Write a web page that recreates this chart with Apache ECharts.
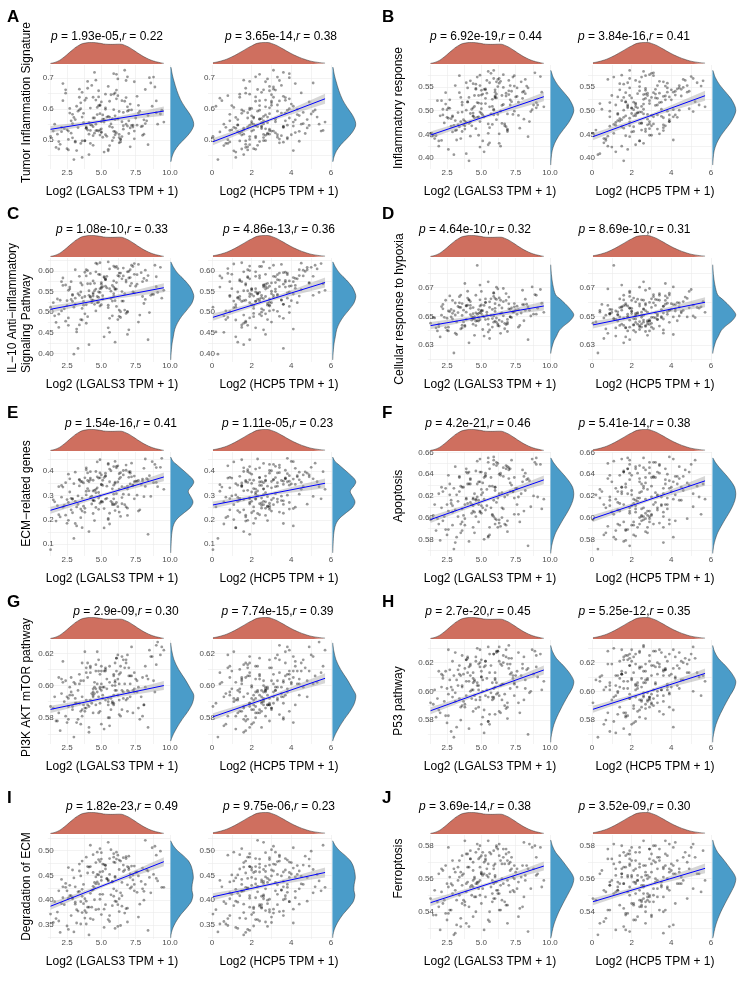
<!DOCTYPE html>
<html>
<head>
<meta charset="utf-8">
<script src="https://cdn.jsdelivr.net/npm/echarts@6/dist/echarts.min.js"></script>
<style>
  html, body { margin: 0; padding: 0; background: #fff; }
  #main { width: 744px; height: 987px; }
</style>
</head>
<body>
<div id="main"></div>
<script>
// shared x values (same samples in every panel)
var xL = [1.3, 2.6, 2.9, 1.9, 5.8, 2.2, 4.1, 4.6, 3.5, 3.1,
  4.3, 6.4, 2.4, 2.8, 3.0, 3.6, 4.8, 5.1, 1.7, 3.9,
  3.3, 2.1, 5.6, 3.7, 4.0, 4.4, 5.2, 2.7, 6.9, 4.7,
  4.5, 3.8, 3.4, 4.2, 5.5, 5.0, 4.9, 6.1, 2.5, 7.4,
  5.7, 5.3, 6.3, 6.0, 8.1, 4.7, 4.4, 3.2, 4.0, 2.3,
  3.5, 2.9, 4.6, 5.6, 5.1, 5.9, 8.4, 7.0, 6.5, 6.2,
  5.4, 6.1, 4.9, 8.8, 6.8, 6.6, 5.8, 7.7, 3.9, 4.3,
  8.3, 3.6, 5.0, 5.9, 6.7, 7.2, 6.9, 6.4, 4.8, 7.5,
  7.1, 6.6, 8.6, 5.2, 7.8, 6.3, 6.0, 5.5, 4.5, 9.1,
  5.3, 8.9, 9.55, 6.5, 7.0, 7.6, 9.3, 6.2, 8.0, 4.9,
  3.8, 1.6, 2.5, 4.9, 3.2, 2.0, 6.3, 2.8, 3.6, 1.5,
  2.1, 4.4, 3.4, 1.8, 5.5, 3.9, 2.6, 4.1, 6.0, 3.1,
  5.9, 3.0, 4.8, 2.4, 4.2, 6.6, 3.5, 1.9, 5.0, 4.5,
  3.7, 5.3, 2.9, 6.4, 4.6, 3.3, 7.1, 5.1, 2.2, 4.0,
  6.1, 4.2, 5.8, 3.1, 7.3, 4.8, 2.7, 5.4, 3.9, 6.7,
  4.9, 7.6, 3.6, 5.5, 6.0, 2.6, 6.9, 4.4, 8.0, 5.2,
  7.9, 5.6, 4.7, 6.5, 3.4, 7.2, 5.0, 8.5, 6.2, 4.1,
  5.3, 8.2, 6.8, 4.4, 7.4, 5.7, 9.0, 6.0, 3.8, 7.0,
  8.4, 6.1, 7.3, 5.0, 9.4, 6.9, 4.2, 7.7, 5.9, 8.1,
  6.8, 5.6, 8.7, 7.4, 4.6, 9.0, 6.3, 8.2, 7.1, 5.9];
var xH = [0.05, 1.8, 0.9, 2.4, 1.1, 0.5, 1.6, 2.9, 0.7, 1.3,
  1.9, 0.8, 2.6, 1.4, 0.3, 2.1, 1.0, 3.3, 1.7, 1.2,
  2.3, 1.5, 0.6, 2.8, 1.9, 3.5, 1.2, 2.0, 2.5, 0.9,
  1.8, 2.7, 3.1, 1.3, 2.2, 0.4, 2.9, 2.4, 1.6, 3.8,
  2.6, 1.4, 3.4, 2.0, 2.8, 1.1, 2.3, 4.1, 1.7, 2.5,
  3.0, 2.2, 1.6, 3.6, 2.7, 4.4, 1.9, 2.4, 3.2, 0.8,
  2.8, 3.9, 1.5, 3.3, 2.1, 4.6, 2.6, 3.0, 1.8, 3.5,
  3.7, 2.5, 4.2, 1.9, 3.1, 4.9, 2.7, 3.4, 2.2, 3.9,
  4.0, 2.9, 5.1, 3.2, 1.6, 3.8, 4.5, 2.6, 3.6, 5.4,
  4.3, 3.1, 5.7, 2.4, 4.7, 3.6, 5.0, 2.8, 4.1, 3.3,
  1.4, 0.6, 2.1, 1.0, 0.2, 1.7, 2.6, 0.9, 1.2, 3.0,
  0.7, 2.3, 1.5, 2.9, 1.1, 0.4, 1.9, 2.5, 1.3, 3.6,
  2.6, 1.2, 3.1, 1.7, 0.8, 2.2, 3.9, 1.5, 2.0, 2.8,
  1.5, 3.3, 2.0, 0.9, 2.7, 3.6, 1.8, 2.4, 4.2, 2.1,
  3.2, 1.9, 2.5, 4.4, 1.3, 2.9, 3.7, 2.2, 1.6, 3.0,
  2.4, 3.8, 1.7, 2.9, 4.8, 2.0, 3.3, 1.4, 2.7, 4.1,
  3.6, 2.2, 4.3, 1.9, 3.1, 5.2, 2.7, 3.9, 2.4, 1.6,
  2.9, 4.6, 3.4, 2.1, 5.5, 3.0, 1.8, 4.0, 3.7, 2.6,
  4.4, 3.2, 2.5, 4.9, 3.8, 2.2, 5.6, 3.5, 1.9, 4.2,
  3.7, 5.3, 4.1, 2.7, 4.5, 3.4, 5.1, 2.3, 4.8, 3.9];

// pathway scores, one array per panel
var yA = [0.512, 0.468, 0.583, 0.495, 0.541, 0.627, 0.453, 0.530, 0.489, 0.566,
  0.548, 0.501, 0.662, 0.522, 0.437, 0.574, 0.611, 0.509, 0.476, 0.538,
  0.593, 0.527, 0.482, 0.556, 0.689, 0.514, 0.461, 0.602, 0.545, 0.531,
  0.571, 0.498, 0.638, 0.549, 0.470, 0.526, 0.585, 0.712, 0.533, 0.504,
  0.552, 0.648, 0.491, 0.578, 0.519, 0.605, 0.543, 0.466, 0.667, 0.537,
  0.620, 0.507, 0.693, 0.544, 0.581, 0.528, 0.485, 0.596, 0.559, 0.643,
  0.574, 0.633, 0.516, 0.703, 0.551, 0.589, 0.498, 0.612, 0.542, 0.676,
  0.562, 0.654, 0.524, 0.598, 0.725, 0.547, 0.607, 0.503, 0.639, 0.571,
  0.616, 0.535, 0.684, 0.567, 0.593, 0.508, 0.652, 0.576, 0.718, 0.551,
  0.599, 0.671, 0.558, 0.627, 0.521, 0.641, 0.584, 0.697, 0.545, 0.613,
  0.497, 0.551, 0.472, 0.533, 0.609, 0.486, 0.518, 0.562, 0.444, 0.529,
  0.541, 0.483, 0.597, 0.519, 0.465, 0.635, 0.502, 0.556, 0.527, 0.493,
  0.508, 0.573, 0.529, 0.651, 0.489, 0.546, 0.601, 0.471, 0.559, 0.522,
  0.586, 0.517, 0.553, 0.494, 0.629, 0.540, 0.478, 0.567, 0.682, 0.532,
  0.523, 0.603, 0.569, 0.496, 0.548, 0.659, 0.587, 0.512, 0.538, 0.625,
  0.611, 0.548, 0.497, 0.673, 0.566, 0.529, 0.593, 0.638, 0.515, 0.558,
  0.543, 0.625, 0.582, 0.511, 0.664, 0.597, 0.536, 0.701, 0.568, 0.519,
  0.604, 0.553, 0.692, 0.571, 0.529, 0.646, 0.588, 0.517, 0.628, 0.562,
  0.579, 0.661, 0.542, 0.623, 0.596, 0.704, 0.531, 0.587, 0.648, 0.565,
  0.637, 0.574, 0.609, 0.688, 0.551, 0.626, 0.592, 0.663, 0.539, 0.714];
var yB = [0.452, 0.418, 0.487, 0.436, 0.471, 0.503, 0.394, 0.462, 0.441, 0.479,
  0.468, 0.425, 0.514, 0.483, 0.407, 0.456, 0.532, 0.491, 0.447, 0.475,
  0.496, 0.521, 0.432, 0.470, 0.548, 0.488, 0.413, 0.505, 0.459, 0.517,
  0.509, 0.461, 0.538, 0.494, 0.428, 0.515, 0.477, 0.561, 0.486, 0.499,
  0.493, 0.544, 0.451, 0.527, 0.482, 0.571, 0.506, 0.438, 0.519, 0.474,
  0.528, 0.489, 0.556, 0.464, 0.535, 0.501, 0.445, 0.542, 0.511, 0.566,
  0.537, 0.481, 0.575, 0.512, 0.466, 0.549, 0.524, 0.490, 0.559, 0.503,
  0.552, 0.497, 0.533, 0.568, 0.472, 0.541, 0.456, 0.562, 0.516, 0.529,
  0.523, 0.576, 0.498, 0.545, 0.463, 0.558, 0.531, 0.583, 0.485, 0.512,
  0.546, 0.580, 0.508, 0.473, 0.564, 0.530, 0.572, 0.492, 0.539, 0.553,
  0.478, 0.441, 0.502, 0.423, 0.459, 0.489, 0.431, 0.467, 0.512, 0.448,
  0.437, 0.495, 0.466, 0.521, 0.452, 0.409, 0.484, 0.473, 0.529, 0.458,
  0.503, 0.469, 0.487, 0.538, 0.446, 0.513, 0.477, 0.425, 0.494, 0.532,
  0.481, 0.526, 0.455, 0.499, 0.547, 0.470, 0.512, 0.436, 0.491, 0.518,
  0.535, 0.476, 0.509, 0.553, 0.492, 0.448, 0.523, 0.564, 0.501, 0.468,
  0.497, 0.548, 0.518, 0.472, 0.539, 0.506, 0.461, 0.557, 0.526, 0.487,
  0.561, 0.508, 0.486, 0.532, 0.574, 0.519, 0.543, 0.477, 0.551, 0.528,
  0.515, 0.566, 0.537, 0.489, 0.552, 0.579, 0.506, 0.544, 0.468, 0.534,
  0.548, 0.527, 0.571, 0.504, 0.539, 0.493, 0.563, 0.518, 0.585, 0.541,
  0.531, 0.559, 0.502, 0.574, 0.545, 0.517, 0.568, 0.536, 0.553, 0.491];
var yC = [0.512, 0.468, 0.541, 0.495, 0.527, 0.583, 0.421, 0.503, 0.482, 0.534,
  0.523, 0.487, 0.566, 0.531, 0.398, 0.509, 0.592, 0.540, 0.475, 0.518,
  0.545, 0.574, 0.451, 0.517, 0.601, 0.529, 0.440, 0.556, 0.500, 0.538,
  0.552, 0.496, 0.587, 0.536, 0.462, 0.561, 0.515, 0.611, 0.528, 0.547,
  0.533, 0.579, 0.490, 0.557, 0.521, 0.617, 0.544, 0.459, 0.569, 0.508,
  0.571, 0.526, 0.598, 0.485, 0.562, 0.539, 0.433, 0.583, 0.550, 0.606,
  0.559, 0.514, 0.620, 0.543, 0.497, 0.588, 0.565, 0.476, 0.603, 0.530,
  0.577, 0.535, 0.558, 0.612, 0.505, 0.570, 0.446, 0.595, 0.549, 0.563,
  0.564, 0.607, 0.541, 0.586, 0.493, 0.595, 0.555, 0.622, 0.519, 0.548,
  0.581, 0.614, 0.553, 0.527, 0.599, 0.568, 0.609, 0.482, 0.574, 0.591,
  0.538, 0.491, 0.516, 0.557, 0.452, 0.529, 0.505, 0.574, 0.481, 0.523,
  0.503, 0.547, 0.469, 0.532, 0.511, 0.588, 0.486, 0.541, 0.427, 0.519,
  0.561, 0.512, 0.536, 0.478, 0.594, 0.527, 0.549, 0.463, 0.518, 0.570,
  0.526, 0.579, 0.543, 0.501, 0.556, 0.412, 0.584, 0.532, 0.565, 0.489,
  0.572, 0.538, 0.491, 0.603, 0.549, 0.524, 0.561, 0.587, 0.473, 0.545,
  0.548, 0.591, 0.566, 0.517, 0.609, 0.553, 0.502, 0.576, 0.538, 0.584,
  0.596, 0.557, 0.523, 0.581, 0.541, 0.614, 0.568, 0.499, 0.589, 0.552,
  0.563, 0.602, 0.578, 0.539, 0.618, 0.551, 0.586, 0.528, 0.597, 0.457,
  0.589, 0.556, 0.611, 0.572, 0.534, 0.598, 0.569, 0.616, 0.545, 0.582,
  0.573, 0.605, 0.544, 0.592, 0.619, 0.562, 0.587, 0.531, 0.603, 0.576];
var yD = [0.6452, 0.6398, 0.6521, 0.6427, 0.6484, 0.6583, 0.6315, 0.6466, 0.6412, 0.6509,
  0.6473, 0.6381, 0.6612, 0.6495, 0.6244, 0.6438, 0.6547, 0.6503, 0.6419, 0.6478,
  0.6526, 0.6568, 0.6345, 0.6461, 0.6675, 0.6490, 0.6362, 0.6533, 0.6447, 0.6514,
  0.6498, 0.6429, 0.6594, 0.6512, 0.6390, 0.6541, 0.6476, 0.6703, 0.6487, 0.6531,
  0.6507, 0.6621, 0.6432, 0.6556, 0.6469, 0.6855, 0.6518, 0.6373, 0.6578, 0.6493,
  0.6562, 0.6481, 0.6647, 0.6405, 0.6539, 0.6502, 0.6337, 0.6587, 0.6524, 0.6691,
  0.6529, 0.6458, 0.6718, 0.6515, 0.6442, 0.6603, 0.6548, 0.6424, 0.6572, 0.6497,
  0.6584, 0.6506, 0.6537, 0.6665, 0.6413, 0.6559, 0.6394, 0.6612, 0.6521, 0.6543,
  0.6549, 0.6694, 0.6502, 0.6576, 0.6436, 0.6628, 0.6534, 0.6741, 0.6481, 0.6557,
  0.6596, 0.6652, 0.6528, 0.6463, 0.6634, 0.6571, 0.6687, 0.6446, 0.6582, 0.6615,
  0.6436, 0.6489, 0.6402, 0.6527, 0.6461, 0.6356, 0.6474, 0.6548, 0.6419, 0.6493,
  0.6508, 0.6445, 0.6563, 0.6398, 0.6481, 0.6529, 0.6424, 0.6615, 0.6467, 0.6382,
  0.6459, 0.6537, 0.6492, 0.6421, 0.6576, 0.6503, 0.6648, 0.6446, 0.6519, 0.6367,
  0.6543, 0.6477, 0.6611, 0.6518, 0.6435, 0.6569, 0.6496, 0.6408, 0.6552, 0.6627,
  0.6488, 0.6556, 0.6425, 0.6593, 0.6531, 0.6467, 0.6642, 0.6509, 0.6574, 0.6451,
  0.6572, 0.6514, 0.6589, 0.6443, 0.6625, 0.6537, 0.6478, 0.6561, 0.6682, 0.6496,
  0.6523, 0.6601, 0.6469, 0.6558, 0.6637, 0.6491, 0.6579, 0.6542, 0.6434, 0.6614,
  0.6597, 0.6541, 0.6659, 0.6483, 0.6566, 0.6622, 0.6515, 0.6588, 0.6729, 0.6552,
  0.6565, 0.6618, 0.6529, 0.6674, 0.6591, 0.6457, 0.6603, 0.6547, 0.6639, 0.6582,
  0.6611, 0.6562, 0.6705, 0.6589, 0.6524, 0.6647, 0.6578, 0.6619, 0.6496, 0.6661];
var yE = [0.078, 0.198, 0.287, 0.221, 0.262, 0.334, 0.152, 0.251, 0.209, 0.276,
  0.265, 0.214, 0.352, 0.288, 0.124, 0.236, 0.371, 0.273, 0.195, 0.302,
  0.298, 0.341, 0.183, 0.256, 0.392, 0.279, 0.167, 0.314, 0.248, 0.331,
  0.321, 0.247, 0.366, 0.292, 0.206, 0.344, 0.268, 0.413, 0.283, 0.356,
  0.276, 0.378, 0.232, 0.349, 0.295, 0.437, 0.318, 0.175, 0.361, 0.259,
  0.357, 0.284, 0.398, 0.227, 0.362, 0.305, 0.141, 0.374, 0.336, 0.421,
  0.338, 0.271, 0.446, 0.352, 0.253, 0.384, 0.327, 0.236, 0.405, 0.297,
  0.369, 0.289, 0.345, 0.418, 0.262, 0.376, 0.218, 0.393, 0.312, 0.358,
  0.347, 0.402, 0.296, 0.373, 0.241, 0.389, 0.354, 0.431, 0.278, 0.336,
  0.381, 0.427, 0.325, 0.266, 0.396, 0.358, 0.415, 0.254, 0.367, 0.392,
  0.231, 0.274, 0.186, 0.298, 0.253, 0.212, 0.326, 0.241, 0.168, 0.282,
  0.293, 0.226, 0.339, 0.258, 0.201, 0.317, 0.271, 0.356, 0.238, 0.185,
  0.262, 0.348, 0.289, 0.219, 0.371, 0.305, 0.244, 0.336, 0.276, 0.197,
  0.351, 0.285, 0.229, 0.374, 0.311, 0.263, 0.397, 0.341, 0.252, 0.328,
  0.307, 0.364, 0.269, 0.395, 0.342, 0.243, 0.368, 0.288, 0.413, 0.331,
  0.372, 0.301, 0.356, 0.427, 0.264, 0.387, 0.338, 0.281, 0.359, 0.246,
  0.345, 0.408, 0.376, 0.291, 0.363, 0.432, 0.274, 0.381, 0.355, 0.319,
  0.391, 0.337, 0.424, 0.362, 0.286, 0.401, 0.353, 0.439, 0.372, 0.303,
  0.364, 0.419, 0.341, 0.384, 0.452, 0.326, 0.397, 0.361, 0.286, 0.411,
  0.403, 0.356, 0.438, 0.379, 0.325, 0.414, 0.368, 0.449, 0.391, 0.342];
var yF = [0.598, 0.589, 0.611, 0.594, 0.603, 0.624, 0.578, 0.601, 0.586, 0.607,
  0.604, 0.592, 0.627, 0.613, 0.571, 0.596, 0.633, 0.609, 0.588, 0.617,
  0.615, 0.628, 0.584, 0.602, 0.641, 0.611, 0.580, 0.621, 0.597, 0.619,
  0.622, 0.599, 0.637, 0.614, 0.583, 0.626, 0.606, 0.648, 0.612, 0.618,
  0.609, 0.639, 0.595, 0.625, 0.606, 0.652, 0.618, 0.582, 0.631, 0.601,
  0.629, 0.605, 0.643, 0.591, 0.632, 0.616, 0.574, 0.636, 0.623, 0.650,
  0.626, 0.598, 0.654, 0.620, 0.593, 0.638, 0.629, 0.603, 0.645, 0.612,
  0.635, 0.608, 0.621, 0.649, 0.594, 0.630, 0.587, 0.641, 0.616, 0.627,
  0.624, 0.646, 0.610, 0.637, 0.596, 0.640, 0.628, 0.655, 0.605, 0.619,
  0.638, 0.651, 0.617, 0.600, 0.644, 0.627, 0.649, 0.591, 0.633, 0.642,
  0.593, 0.612, 0.584, 0.605, 0.621, 0.579, 0.598, 0.616, 0.588, 0.602,
  0.609, 0.591, 0.624, 0.599, 0.582, 0.618, 0.606, 0.631, 0.594, 0.577,
  0.601, 0.627, 0.612, 0.589, 0.636, 0.608, 0.594, 0.622, 0.611, 0.586,
  0.628, 0.607, 0.593, 0.639, 0.617, 0.601, 0.645, 0.623, 0.597, 0.613,
  0.614, 0.635, 0.602, 0.647, 0.624, 0.596, 0.631, 0.611, 0.642, 0.619,
  0.633, 0.612, 0.628, 0.651, 0.599, 0.639, 0.621, 0.606, 0.644, 0.617,
  0.622, 0.645, 0.631, 0.609, 0.638, 0.653, 0.604, 0.634, 0.618, 0.642,
  0.641, 0.625, 0.648, 0.617, 0.603, 0.637, 0.655, 0.628, 0.612, 0.646,
  0.636, 0.651, 0.624, 0.642, 0.608, 0.647, 0.631, 0.619, 0.653, 0.638,
  0.645, 0.629, 0.654, 0.637, 0.616, 0.649, 0.622, 0.641, 0.632, 0.656];
var yG = [0.587, 0.579, 0.594, 0.583, 0.590, 0.602, 0.571, 0.588, 0.576, 0.592,
  0.589, 0.581, 0.603, 0.596, 0.568, 0.585, 0.609, 0.592, 0.578, 0.591,
  0.597, 0.604, 0.575, 0.588, 0.614, 0.593, 0.573, 0.599, 0.584, 0.596,
  0.595, 0.586, 0.607, 0.591, 0.580, 0.601, 0.589, 0.617, 0.593, 0.598,
  0.592, 0.610, 0.582, 0.600, 0.588, 0.621, 0.596, 0.577, 0.605, 0.590,
  0.603, 0.587, 0.613, 0.580, 0.599, 0.594, 0.574, 0.606, 0.597, 0.619,
  0.598, 0.609, 0.584, 0.603, 0.591, 0.616, 0.600, 0.586, 0.611, 0.595,
  0.606, 0.593, 0.612, 0.589, 0.601, 0.624, 0.597, 0.608, 0.583, 0.604,
  0.601, 0.592, 0.618, 0.599, 0.579, 0.607, 0.614, 0.590, 0.602, 0.627,
  0.609, 0.596, 0.622, 0.585, 0.611, 0.603, 0.619, 0.594, 0.605, 0.599,
  0.584, 0.593, 0.577, 0.598, 0.589, 0.572, 0.591, 0.605, 0.581, 0.586,
  0.595, 0.583, 0.601, 0.578, 0.592, 0.608, 0.587, 0.574, 0.597, 0.589,
  0.588, 0.602, 0.593, 0.581, 0.611, 0.596, 0.584, 0.605, 0.576, 0.599,
  0.603, 0.591, 0.585, 0.612, 0.598, 0.579, 0.606, 0.594, 0.615, 0.588,
  0.597, 0.608, 0.589, 0.601, 0.583, 0.616, 0.594, 0.604, 0.586, 0.611,
  0.607, 0.596, 0.614, 0.588, 0.603, 0.592, 0.619, 0.598, 0.581, 0.609,
  0.593, 0.612, 0.601, 0.618, 0.589, 0.606, 0.597, 0.622, 0.604, 0.587,
  0.611, 0.599, 0.616, 0.594, 0.608, 0.585, 0.613, 0.602, 0.621, 0.596,
  0.604, 0.617, 0.597, 0.609, 0.624, 0.592, 0.612, 0.599, 0.606, 0.588,
  0.614, 0.602, 0.618, 0.596, 0.609, 0.625, 0.601, 0.612, 0.593, 0.607];
var yH = [0.592, 0.583, 0.601, 0.587, 0.596, 0.611, 0.574, 0.594, 0.580, 0.599,
  0.595, 0.585, 0.614, 0.603, 0.568, 0.590, 0.619, 0.600, 0.582, 0.597,
  0.604, 0.612, 0.577, 0.593, 0.623, 0.601, 0.571, 0.608, 0.589, 0.606,
  0.607, 0.591, 0.618, 0.600, 0.579, 0.610, 0.596, 0.627, 0.602, 0.605,
  0.599, 0.621, 0.586, 0.609, 0.594, 0.630, 0.606, 0.575, 0.613, 0.593,
  0.611, 0.596, 0.624, 0.584, 0.608, 0.602, 0.570, 0.616, 0.605, 0.628,
  0.609, 0.598, 0.629, 0.612, 0.588, 0.620, 0.606, 0.592, 0.622, 0.601,
  0.615, 0.603, 0.610, 0.626, 0.590, 0.613, 0.581, 0.619, 0.604, 0.611,
  0.612, 0.625, 0.600, 0.617, 0.585, 0.621, 0.608, 0.631, 0.597, 0.610,
  0.618, 0.628, 0.607, 0.594, 0.623, 0.614, 0.626, 0.599, 0.616, 0.620,
  0.589, 0.601, 0.578, 0.594, 0.608, 0.585, 0.597, 0.572, 0.604, 0.591,
  0.603, 0.586, 0.612, 0.595, 0.579, 0.607, 0.598, 0.617, 0.584, 0.593,
  0.596, 0.611, 0.601, 0.583, 0.619, 0.605, 0.589, 0.614, 0.577, 0.608,
  0.612, 0.597, 0.621, 0.604, 0.588, 0.615, 0.602, 0.582, 0.609, 0.624,
  0.606, 0.618, 0.594, 0.627, 0.611, 0.589, 0.615, 0.601, 0.622, 0.598,
  0.617, 0.603, 0.625, 0.596, 0.613, 0.629, 0.592, 0.609, 0.619, 0.587,
  0.611, 0.626, 0.604, 0.618, 0.595, 0.623, 0.614, 0.599, 0.628, 0.607,
  0.621, 0.608, 0.629, 0.613, 0.597, 0.618, 0.625, 0.603, 0.616, 0.632,
  0.616, 0.628, 0.609, 0.622, 0.601, 0.619, 0.611, 0.627, 0.595, 0.624,
  0.624, 0.613, 0.629, 0.606, 0.621, 0.617, 0.631, 0.602, 0.619, 0.626];
var yI = [0.372, 0.341, 0.403, 0.358, 0.389, 0.427, 0.330, 0.381, 0.352, 0.396,
  0.386, 0.349, 0.434, 0.409, 0.336, 0.375, 0.451, 0.412, 0.363, 0.398,
  0.417, 0.442, 0.357, 0.393, 0.468, 0.421, 0.345, 0.430, 0.384, 0.437,
  0.425, 0.379, 0.459, 0.414, 0.361, 0.440, 0.402, 0.483, 0.419, 0.432,
  0.411, 0.463, 0.377, 0.446, 0.400, 0.497, 0.428, 0.354, 0.455, 0.391,
  0.449, 0.405, 0.476, 0.369, 0.458, 0.423, 0.339, 0.466, 0.436, 0.491,
  0.444, 0.397, 0.504, 0.452, 0.383, 0.471, 0.438, 0.366, 0.487, 0.420,
  0.461, 0.408, 0.447, 0.494, 0.374, 0.469, 0.356, 0.479, 0.433, 0.456,
  0.453, 0.486, 0.415, 0.472, 0.392, 0.481, 0.448, 0.517, 0.401, 0.439,
  0.470, 0.509, 0.426, 0.388, 0.489, 0.457, 0.499, 0.347, 0.465, 0.478,
  0.364, 0.397, 0.348, 0.412, 0.381, 0.335, 0.403, 0.369, 0.422, 0.355,
  0.393, 0.361, 0.418, 0.376, 0.439, 0.352, 0.404, 0.386, 0.343, 0.427,
  0.408, 0.445, 0.382, 0.426, 0.363, 0.458, 0.397, 0.419, 0.371, 0.436,
  0.432, 0.391, 0.461, 0.415, 0.447, 0.378, 0.424, 0.473, 0.405, 0.386,
  0.419, 0.468, 0.437, 0.392, 0.451, 0.482, 0.409, 0.443, 0.375, 0.461,
  0.457, 0.416, 0.479, 0.441, 0.398, 0.466, 0.431, 0.492, 0.423, 0.382,
  0.438, 0.484, 0.452, 0.409, 0.473, 0.427, 0.496, 0.446, 0.391, 0.467,
  0.471, 0.432, 0.488, 0.456, 0.419, 0.502, 0.444, 0.476, 0.403, 0.462,
  0.459, 0.497, 0.441, 0.483, 0.426, 0.468, 0.511, 0.449, 0.487, 0.418,
  0.484, 0.452, 0.506, 0.469, 0.433, 0.491, 0.462, 0.521, 0.446, 0.477];
var yJ = [0.548, 0.539, 0.556, 0.543, 0.551, 0.565, 0.531, 0.549, 0.536, 0.553,
  0.550, 0.541, 0.568, 0.557, 0.526, 0.545, 0.572, 0.554, 0.538, 0.552,
  0.559, 0.566, 0.534, 0.547, 0.575, 0.555, 0.529, 0.561, 0.544, 0.558,
  0.561, 0.546, 0.571, 0.555, 0.535, 0.563, 0.550, 0.579, 0.557, 0.560,
  0.555, 0.574, 0.541, 0.562, 0.549, 0.581, 0.559, 0.532, 0.567, 0.547,
  0.564, 0.551, 0.576, 0.540, 0.562, 0.557, 0.528, 0.569, 0.560, 0.578,
  0.562, 0.553, 0.580, 0.566, 0.544, 0.573, 0.559, 0.537, 0.575, 0.556,
  0.568, 0.556, 0.563, 0.577, 0.546, 0.566, 0.533, 0.571, 0.558, 0.564,
  0.565, 0.578, 0.554, 0.570, 0.542, 0.574, 0.561, 0.583, 0.549, 0.563,
  0.571, 0.580, 0.559, 0.547, 0.576, 0.566, 0.579, 0.551, 0.568, 0.573,
  0.544, 0.553, 0.535, 0.559, 0.547, 0.529, 0.551, 0.541, 0.562, 0.538,
  0.552, 0.537, 0.561, 0.546, 0.569, 0.533, 0.555, 0.543, 0.558, 0.527,
  0.548, 0.566, 0.554, 0.539, 0.572, 0.557, 0.531, 0.563, 0.545, 0.560,
  0.563, 0.549, 0.571, 0.556, 0.540, 0.567, 0.552, 0.576, 0.545, 0.558,
  0.558, 0.572, 0.546, 0.564, 0.553, 0.578, 0.541, 0.566, 0.557, 0.569,
  0.567, 0.554, 0.574, 0.561, 0.548, 0.579, 0.559, 0.570, 0.543, 0.563,
  0.561, 0.576, 0.557, 0.569, 0.550, 0.573, 0.564, 0.581, 0.553, 0.567,
  0.572, 0.559, 0.578, 0.565, 0.552, 0.575, 0.562, 0.569, 0.583, 0.556,
  0.566, 0.580, 0.561, 0.574, 0.555, 0.571, 0.577, 0.558, 0.568, 0.582,
  0.575, 0.563, 0.579, 0.568, 0.557, 0.573, 0.581, 0.562, 0.570, 0.566];

// marginal densities: top [x, height], right [height, y]
var densXL = [[1.3, 0.03], [1.8, 0.12], [2.3, 0.33], [2.8, 0.6], [3.3, 0.84], [3.8, 0.97], [4.3, 1.0],
  [4.8, 0.97], [5.3, 0.92], [5.8, 0.91], [6.3, 0.92], [6.8, 0.84], [7.3, 0.66], [7.8, 0.45],
  [8.3, 0.27], [8.8, 0.14], [9.3, 0.06], [9.55, 0.03]];
var densXH = [[0.05, 0.06], [0.5, 0.15], [1.0, 0.33], [1.5, 0.58], [2.0, 0.84], [2.4, 0.98], [2.7, 1.0],
  [3.1, 0.92], [3.5, 0.74], [3.9, 0.53], [4.3, 0.35], [4.7, 0.21], [5.1, 0.11], [5.7, 0.04]];
var densA = [[0.02, 0.735], [0.08, 0.71], [0.15, 0.69], [0.27, 0.66], [0.43, 0.63], [0.63, 0.605], [0.86, 0.58],
  [0.98, 0.56], [0.99, 0.545], [0.85, 0.525], [0.62, 0.505], [0.36, 0.485], [0.17, 0.465], [0.06, 0.445], [0.02, 0.43]];
var densB = [[0.02, 0.585], [0.12, 0.57], [0.3, 0.555], [0.55, 0.54], [0.8, 0.525], [0.96, 0.51], [1.0, 0.50],
  [0.94, 0.49], [0.78, 0.475], [0.55, 0.46], [0.33, 0.445], [0.17, 0.43], [0.07, 0.415], [0.03, 0.40], [0.01, 0.385]];
var densC = [[0.02, 0.622], [0.12, 0.61], [0.3, 0.595], [0.6, 0.578], [0.85, 0.561], [0.98, 0.545], [1.0, 0.537],
  [0.92, 0.522], [0.7, 0.505], [0.48, 0.49], [0.3, 0.474], [0.18, 0.458], [0.12, 0.44], [0.07, 0.425],
  [0.04, 0.41], [0.02, 0.395], [0.01, 0.384]];
var densD = [[0.01, 0.686], [0.04, 0.679], [0.1, 0.672], [0.22, 0.665], [0.42, 0.662], [0.62, 0.659], [0.85, 0.655],
  [1.0, 0.651], [0.85, 0.647], [0.55, 0.643], [0.37, 0.64], [0.25, 0.636], [0.15, 0.633], [0.09, 0.63],
  [0.04, 0.627], [0.01, 0.624]];
var densE = [[0.01, 0.457], [0.1, 0.44], [0.28, 0.425], [0.46, 0.41], [0.7, 0.39], [0.92, 0.37], [1.0, 0.355],
  [0.93, 0.34], [0.8, 0.325], [0.76, 0.314], [0.84, 0.3], [0.95, 0.28], [0.96, 0.268], [0.85, 0.25],
  [0.6, 0.23], [0.32, 0.208], [0.18, 0.19], [0.1, 0.17], [0.05, 0.14], [0.03, 0.11], [0.01, 0.065]];
var densF = [[0.02, 0.655], [0.12, 0.651], [0.3, 0.646], [0.55, 0.64], [0.78, 0.634], [0.95, 0.628], [1.0, 0.622],
  [0.96, 0.616], [0.85, 0.61], [0.7, 0.604], [0.53, 0.598], [0.37, 0.592], [0.22, 0.586], [0.12, 0.58],
  [0.05, 0.574], [0.01, 0.567]];
var densG = [[0.01, 0.6265], [0.05, 0.622], [0.15, 0.616], [0.35, 0.61], [0.62, 0.604], [0.86, 0.598], [1.0, 0.594],
  [0.94, 0.589], [0.75, 0.584], [0.5, 0.579], [0.28, 0.574], [0.13, 0.57], [0.04, 0.567], [0.01, 0.5655]];
var densH = [[0.01, 0.632], [0.08, 0.628], [0.25, 0.623], [0.55, 0.618], [0.85, 0.612], [1.0, 0.607], [0.93, 0.602],
  [0.75, 0.597], [0.58, 0.592], [0.42, 0.587], [0.27, 0.582], [0.15, 0.577], [0.07, 0.572], [0.02, 0.5675], [0.01, 0.5645]];
var densI = [[0.01, 0.52], [0.12, 0.51], [0.3, 0.50], [0.55, 0.49], [0.76, 0.48], [0.88, 0.47], [0.95, 0.458],
  [0.98, 0.445], [0.93, 0.432], [0.92, 0.42], [0.96, 0.41], [0.9, 0.398], [0.7, 0.385], [0.46, 0.372],
  [0.28, 0.36], [0.16, 0.35], [0.07, 0.34], [0.02, 0.33], [0.01, 0.324]];
var densJ = [[0.01, 0.5835], [0.08, 0.58], [0.22, 0.576], [0.45, 0.572], [0.72, 0.567], [0.92, 0.563], [1.0, 0.56],
  [0.94, 0.556], [0.8, 0.552], [0.65, 0.548], [0.5, 0.544], [0.36, 0.54], [0.24, 0.536], [0.14, 0.532],
  [0.07, 0.528], [0.03, 0.525], [0.01, 0.524]];

var letters = ['A', 'B', 'C', 'D', 'E', 'F', 'G', 'H', 'I', 'J'];
var yNames = ['Tumor Inflammation Signature', 'Inflammatory response',
  'IL\u221210 Anti\u2212inflammatory\nSignaling Pathway', 'Cellular response to hypoxia',
  'ECM\u2212related genes', 'Apoptosis', 'PI3K AKT mTOR pathway', 'P53 pathway',
  'Degradation of ECM', 'Ferroptosis'];
var pLeft = ['1.93e-05', '6.92e-19', '1.08e-10', '4.64e-10', '1.54e-16', '4.2e-21', '2.9e-09', '2.7e-20', '1.82e-23', '3.69e-14'];
var rLeft = ['0.22', '0.44', '0.33', '0.32', '0.41', '0.46', '0.30', '0.45', '0.49', '0.38'];
var pRight = ['3.65e-14', '3.84e-16', '4.86e-13', '8.69e-10', '1.11e-05', '5.41e-14', '7.74e-15', '5.25e-12', '9.75e-06', '3.52e-09'];
var rRight = ['0.38', '0.41', '0.36', '0.31', '0.23', '0.38', '0.39', '0.35', '0.23', '0.30'];
var xNames = ['Log2 (LGALS3 TPM + 1)', 'Log2 (HCP5 TPM + 1)'];
var xTicksL = [2.5, 5, 7.5, 10];
var xTicksH = [0, 2, 4, 6];
var yTicks = [[0.5, 0.6, 0.7], [0.40, 0.45, 0.50, 0.55], [0.40, 0.45, 0.50, 0.55, 0.60], [0.63, 0.65, 0.67],
  [0.1, 0.2, 0.3, 0.4], [0.58, 0.60, 0.62, 0.64, 0.66], [0.58, 0.60, 0.62], [0.58, 0.60, 0.62],
  [0.35, 0.40, 0.45, 0.50], [0.54, 0.56, 0.58]];
var yDec = [1, 2, 2, 2, 1, 2, 2, 2, 2, 2];
var yLims = [[0.4065, 0.742], [0.3767, 0.5965], [0.3789, 0.6316], [0.6181, 0.6907], [0.0521, 0.4777],
  [0.5646, 0.6605], [0.5637, 0.6283], [0.5633, 0.6358], [0.3217, 0.5317], [0.5235, 0.5865]];
// fitted line values at the data min / max of x
var fitL = [[0.5345, 0.5935], [0.4485, 0.5295], [0.507, 0.5594], [0.6435, 0.6572], [0.2392, 0.3755],
  [0.5982, 0.6348], [0.5852, 0.600], [0.5865, 0.6149], [0.3879, 0.4778], [0.5455, 0.5677]];
var fitR = [[0.4945, 0.633], [0.445, 0.5316], [0.4875, 0.572], [0.644, 0.6598], [0.261, 0.3497],
  [0.5991, 0.6339], [0.5806, 0.6045], [0.5875, 0.6125], [0.407, 0.456], [0.5461, 0.5663]];
// confidence half widths at min / middle / max of x
var ciL = [[0.011, 0.005, 0.015], [0.0075, 0.0032, 0.0095], [0.0085, 0.0037, 0.011], [0.0025, 0.001, 0.0031],
  [0.0145, 0.006, 0.018], [0.0032, 0.0014, 0.004], [0.0022, 0.0009, 0.0028], [0.0025, 0.001, 0.0031],
  [0.007, 0.003, 0.009], [0.0021, 0.0009, 0.0027]];
var ciR = [[0.011, 0.005, 0.016], [0.0075, 0.0032, 0.0105], [0.0085, 0.0037, 0.012], [0.0025, 0.001, 0.0035],
  [0.0145, 0.006, 0.02], [0.0032, 0.0014, 0.0045], [0.0022, 0.0009, 0.0031], [0.0025, 0.001, 0.0035],
  [0.007, 0.003, 0.01], [0.0021, 0.0009, 0.003]];

var yVals = [yA, yB, yC, yD, yE, yF, yG, yH, yI, yJ];
var yDens = [densA, densB, densC, densD, densE, densF, densG, densH, densI, densJ];

var FONT = "'Liberation Sans', Arial, Helvetica, sans-serif";
var RED = '#CF6F5F', BLUE = '#4A9CC9';
var rowOff = [0, 193, 387, 575, 770];
var colOff = [0, 380];
var letterY = [17, 214, 413, 602, 798];
var letterX = [7, 382];
var titleXL = [107, 106, 112, 95, 121, 98, 126, 98, 122, 95];
var titleXR = [281, 254, 279, 254.5, 277.5, 254.5, 277.5, 254.5, 279, 254.5];
var nameX = [[112, 279], [110, 275]];
var yLabPos = [[27, 102.5], [399, 108], [20, 373], [400, 309], [27, 493.5], [399, 496], [27, 687.5], [399, 701], [27, 886.5], [399, 868.5]];

var grids = [], xAxes = [], yAxes = [], series = [], graphics = [];

function addGrid(left, top, width, height, xa, ya) {
  grids.push({ left: left, top: top, width: width, height: height });
  var i = grids.length - 1;
  xa.gridIndex = i; ya.gridIndex = i;
  xAxes.push(xa); yAxes.push(ya);
  return i;
}

function withMinor(ticks, lo, hi) {
  var step = ticks[1] - ticks[0], out = [];
  ticks.forEach(function (t) { out.push(t - step / 2, t); });
  out.push(ticks[ticks.length - 1] + step / 2);
  return out.filter(function (v) { return v >= lo && v <= hi; });
}

function valueAxis(lo, hi, ticks, dec, margin) {
  return {
    type: 'value', min: lo, max: hi,
    axisLine: { show: false },
    axisTick: { show: false, customValues: withMinor(ticks, lo, hi) },
    splitLine: { show: true, lineStyle: { color: '#EBEBEB', width: 0.6 } },
    axisLabel: {
      customValues: ticks, margin: margin, fontSize: 8, color: '#4D4D4D', fontFamily: FONT,
      formatter: function (v) { return Number(v).toFixed(dec); }
    }
  };
}

function hiddenAxis(lo, hi) {
  return { type: 'value', min: lo, max: hi, show: false };
}

function bandRender(band) {
  return function (params, api) {
    if (params.dataIndex !== 0) return;
    var up = band.map(function (b) { return api.coord([b[0], b[2]]); });
    var lo = band.map(function (b) { return api.coord([b[0], b[1]]); }).reverse();
    return { type: 'polygon', shape: { points: up.concat(lo) }, style: { fill: 'rgba(153,153,153,0.4)' } };
  };
}

function densRender(pts) {
  return function (params, api) {
    if (params.dataIndex !== 0) return;
    var curve = pts.map(function (d) { return api.coord(d); });
    var base = [api.coord([0, pts[pts.length - 1][1]]), api.coord([0, pts[0][1]])];
    return {
      type: 'group', children: [
        { type: 'polygon', shape: { points: curve.concat(base), smooth: 0.3 }, style: { fill: BLUE } },
        { type: 'polyline', shape: { points: curve, smooth: 0.3 }, style: { fill: null, stroke: '#333', lineWidth: 0.5 } }
      ]
    };
  };
}

function addText(x, y, text, opt) {
  var st = {
    text: text, fontSize: 12, fontFamily: FONT, fill: '#000',
    textAlign: 'center', textVerticalAlign: 'middle'
  };
  for (var k in opt.style || {}) st[k] = opt.style[k];
  graphics.push({ type: 'text', x: x, y: y, rotation: opt.rotation || 0, silent: true, style: st });
}

for (var p = 0; p < 10; p++) {
  var row = Math.floor(p / 2), col = p % 2;
  var cx = colOff[col], ry = rowOff[row];
  var yv = yVals[p], yl = yLims[p];

  for (var side = 0; side < 2; side++) {
    var xs = side ? xH : xL;
    var xr = side ? [-0.2, 6.05] : [1.1, 10.05];
    var gl = cx + (side ? 208 : 47.8);
    var gw = side ? 124 : 122.9;

    // scatter panel
    var gi = addGrid(gl, ry + 65, gw, 104,
      valueAxis(xr[0], xr[1], side ? xTicksH : xTicksL, side ? 0 : 1, 0),
      valueAxis(yl[0], yl[1], yTicks[p], yDec[p], side ? -7 : -6));
    series.push({
      type: 'scatter', xAxisIndex: gi, yAxisIndex: gi, silent: true, z: 2,
      symbolSize: 2.8, itemStyle: { color: 'rgba(0,0,0,0.5)' },
      data: xs.map(function (x, i) { return [x, yv[i]]; })
    });
    var x0 = Math.min.apply(null, xs), x1 = Math.max.apply(null, xs), xm = (x0 + x1) / 2;
    var f = side ? fitR[p] : fitL[p], c = side ? ciR[p] : ciL[p];
    var fm = (f[0] + f[1]) / 2;
    var band = [[x0, f[0] - c[0], f[0] + c[0]], [xm, fm - c[1], fm + c[1]], [x1, f[1] - c[2], f[1] + c[2]]];
    series.push({ type: 'custom', xAxisIndex: gi, yAxisIndex: gi, silent: true, z: 3, data: band, renderItem: bandRender(band) });
    series.push({
      type: 'line', xAxisIndex: gi, yAxisIndex: gi, silent: true, z: 4, symbol: 'none',
      lineStyle: { color: '#0000FF', width: 1 }, data: [[x0, f[0]], [x1, f[1]]]
    });

    // top marginal density
    var ti = addGrid(gl, ry + 42, gw, 22, hiddenAxis(xr[0], xr[1]), hiddenAxis(0, 1.02));
    series.push({
      type: 'line', xAxisIndex: ti, yAxisIndex: ti, silent: true, smooth: true, symbol: 'none',
      lineStyle: { color: '#333', width: 0.5 }, areaStyle: { color: RED, opacity: 1 },
      data: side ? densXH : densXL
    });

    // right marginal density
    var ri = addGrid(cx + (side ? 332.5 : 170.5), ry + 65, 24, 104, hiddenAxis(0, 1.03), hiddenAxis(yl[0], yl[1]));
    series.push({ type: 'custom', xAxisIndex: ri, yAxisIndex: ri, silent: true, data: yDens[p], renderItem: densRender(yDens[p]) });

    // x axis title
    addText(cx + nameX[col][side], ry + 192, xNames[side], {});
  }

  // panel texts
  addText(letterX[col], letterY[row], letters[p], { style: { fontSize: 17, fontWeight: 'bold', textAlign: 'left' } });
  var rich = { i: { fontStyle: 'italic', fontSize: 12, fontFamily: FONT } };
  addText(cx + titleXL[p], ry + 37, '{i|p} = ' + pLeft[p] + ',{i|r} = ' + rLeft[p], { style: { rich: rich } });
  addText(cx + titleXR[p], ry + 37, '{i|p} = ' + pRight[p] + ',{i|r} = ' + rRight[p], { style: { rich: rich } });
  var multi = yNames[p].indexOf('\n') >= 0;
  addText(yLabPos[p][0], yLabPos[p][1], yNames[p], {
    rotation: Math.PI / 2,
    style: { textAlign: multi ? 'left' : 'center', lineHeight: 14 }
  });
}

var chart = echarts.init(document.getElementById('main'));
chart.setOption({
  animation: false,
  backgroundColor: '#ffffff',
  grid: grids,
  xAxis: xAxes,
  yAxis: yAxes,
  series: series,
  graphic: { elements: graphics }
});
</script>
</body>
</html>
